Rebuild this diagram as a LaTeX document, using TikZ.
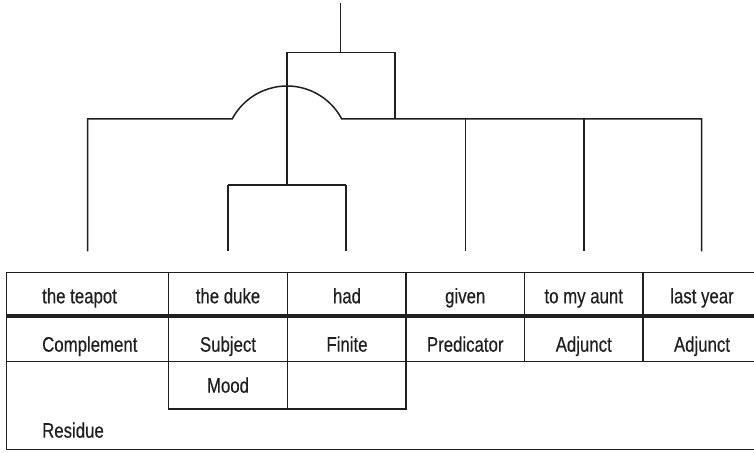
\documentclass[tikz,border=0pt]{standalone}
\usepackage{fontspec}
\setmainfont{Liberation Sans}[FakeStretch=0.8,FakeBold=0.4]
\begin{document}
\begin{tikzpicture}[x=1pt,y=1pt,
  ln/.style={line width=1.5pt,draw=black!88},
  tb/.style={line width=1.7pt,draw=black!88},
  thick rule/.style={line width=4pt,draw=black!88},
  lbl/.style={inner sep=0pt,anchor=base,font=\fontsize{21}{24}\selectfont,text=black!88},
  lblw/.style={lbl,anchor=base west}]
\useasboundingbox (0,0) rectangle (754,452);
% ---------- tree coordinates ----------
\coordinate (root) at (340.7,449);
\coordinate (rj) at (340.7,399.5);
\coordinate (bl) at (287,399.5);
\coordinate (br) at (395,399.5);
\coordinate (sj) at (287,267);
\coordinate (sl) at (228,267);
\coordinate (sr) at (346,267);
\coordinate (ml) at (87.5,333);
\coordinate (al) at (232.2,333);
\coordinate (ar) at (341.8,333);
\coordinate (mb) at (395,333);
\coordinate (m4) at (465.3,333);
\coordinate (m5) at (584,333);
\coordinate (m6) at (701.7,333);
\coordinate (e1) at (87.5,200.5);
\coordinate (e2) at (228,200.5);
\coordinate (e3) at (346,200.5);
\coordinate (e4) at (465.3,200.5);
\coordinate (e5) at (584,200.5);
\coordinate (e6) at (701.7,200.5);
% ---------- tree ----------
\draw[ln] (root) -- (rj);
\draw[ln] (sj) -- (bl) -- (br) -- (mb);
\draw[ln] (sl) -- (sr);
\draw[ln] (sl) -- (e2);
\draw[ln] (sr) -- (e3);
\draw[ln] (e1) -- (ml) -- (al) arc[start angle=152.1,end angle=27.9,radius=62] -- (m6) -- (e6);
\draw[ln] (m4) -- (e4);
\draw[ln] (m5) -- (e5);
% ---------- table coordinates ----------
\coordinate (tl) at (6.5,179.5);
\coordinate (tr) at (754,179.5);
\coordinate (hl) at (6.5,135.5);
\coordinate (hr) at (754,135.5);
\coordinate (rl) at (6.5,90.5);
\coordinate (rr) at (754,90.5);
\coordinate (bl2) at (6.5,2.5);
\coordinate (br2) at (754,2.5);
\coordinate (c1t) at (168.5,179.5);
\coordinate (c2t) at (287.5,179.5);
\coordinate (c3t) at (406,179.5);
\coordinate (c4t) at (524.5,179.5);
\coordinate (c5t) at (643,179.5);
\coordinate (c1b) at (168.5,90.5);
\coordinate (c2b) at (287.5,90.5);
\coordinate (c3b) at (406,90.5);
\coordinate (c4b) at (524.5,90.5);
\coordinate (c5b) at (643,90.5);
\coordinate (m1) at (168.5,43);
\coordinate (m2) at (287.5,43);
\coordinate (m3) at (406,43);
% ---------- table ----------
\draw[tb] (tr) -- (tl) -- (bl2) -- (br2);
\draw[tb] (rl) -- (rr);
\draw[thick rule] (hl) -- (hr);
\draw[tb] (c1t) -- (c1b);
\draw[tb] (c2t) -- (c2b);
\draw[tb] (c3t) -- (c3b);
\draw[tb] (c4t) -- (c4b);
\draw[tb] (c5t) -- (c5b);
\draw[tb] (c1b) -- (m1) -- (m3) -- (c3b);
\draw[tb] (c2b) -- (m2);
% ---------- labels ----------
\node[lblw] (w1) at (42,148.7) {the teapot};
\node[lbl] (w2) at (228,148.7) {the duke};
\node[lbl] (w3) at (347,148.7) {had};
\node[lbl] (w4) at (465.25,148.7) {given};
\node[lbl] (w5) at (583.75,148.7) {to my aunt};
\node[lbl] (w6) at (702,148.7) {last year};
\node[lblw] (f1) at (42,100.3) {Complement};
\node[lbl] (f2) at (228,100.3) {Subject};
\node[lbl] (f3) at (347,100.3) {Finite};
\node[lbl] (f4) at (465.25,100.3) {Predicator};
\node[lbl] (f5) at (583.75,100.3) {Adjunct};
\node[lbl] (f6) at (702,100.3) {Adjunct};
\node[lbl] (mood) at (228,59.3) {Mood};
\node[lblw] (res) at (42,14.3) {Residue};
\end{tikzpicture}
\end{document}
